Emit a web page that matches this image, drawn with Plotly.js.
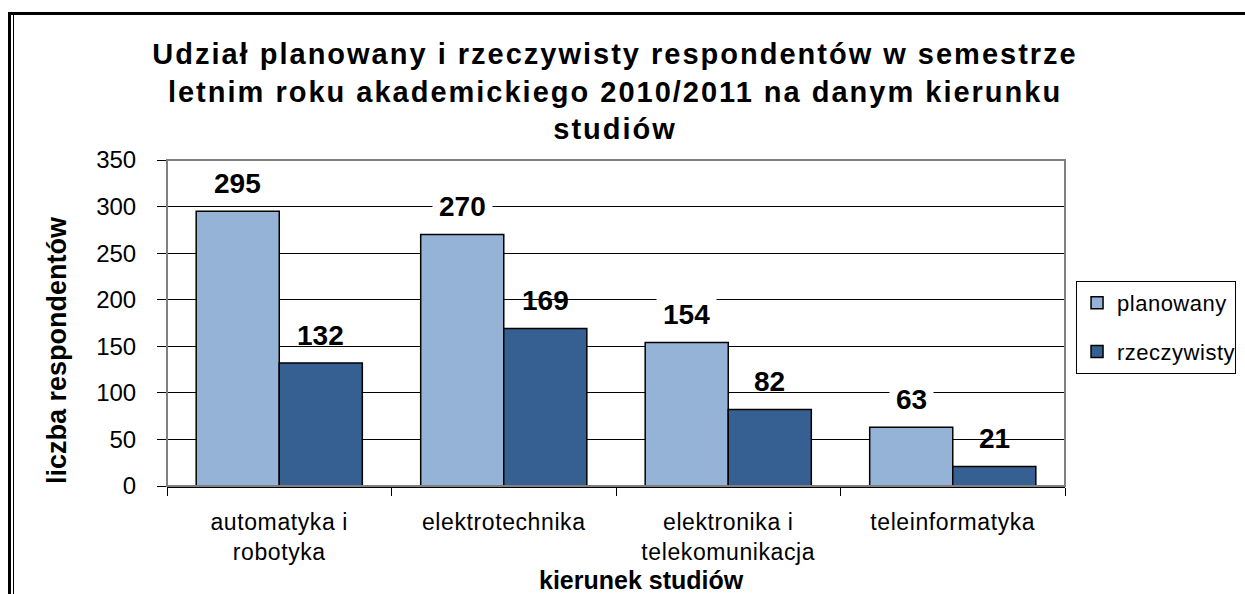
<!DOCTYPE html>
<html>
<head>
<meta charset="utf-8">
<script src="https://cdn.plot.ly/plotly-3.0.1.min.js"></script>
<style>
html,body{margin:0;padding:0;background:#fff;overflow:hidden;}
#wrap{position:relative;width:1245px;height:594px;}
#chart{position:absolute;left:0;top:0;width:1245px;height:594px;}
#frame1{position:absolute;left:8px;top:12px;width:1300px;height:700px;border-left:3px solid #000;border-top:3px solid #000;pointer-events:none;}
#frame2{position:absolute;left:13px;top:15px;width:1px;height:700px;background:#000;pointer-events:none;}
#chart .gtitle{letter-spacing:2px;}
#chart .xtick text{letter-spacing:0.6px;}
#chart .legendtext{letter-spacing:0.5px;}
</style>
</head>
<body>
<div id="wrap">
<div id="chart"></div>
<div id="frame1"></div>
<div id="frame2"></div>
</div>
<script>
const categories = ["automatyka i<br>robotyka", "elektrotechnika", "elektronika i<br>telekomunikacja", "teleinformatyka"];
const planowany = [295, 270, 154, 63];
const rzeczywisty = [132, 169, 82, 21];
const seriesNames = ["planowany", "rzeczywisty"];
const colors = ["#95B3D7", "#366092"];

const FONT = "Liberation Sans, Arial, sans-serif";

const traces = [planowany, rzeczywisty].map((vals, i) => ({
  type: "bar",
  name: seriesNames[i],
  x: categories,
  y: vals,
  marker: {color: colors[i], line: {color: "#000", width: 1.5}},
  legendgroup: "g" + i,
  hoverinfo: "skip"
}));

const annotations = [];
const off = 0.185;
planowany.forEach((v, i) => {
  annotations.push({x: i - off, y: v, xref: "x", yref: "y", text: String(v), showarrow: false,
    yshift: 28, yanchor: "middle", font: {family: FONT, size: 28, color: "#000", weight: "bold"},
    bgcolor: "#fff", borderpad: 6});
});
rzeczywisty.forEach((v, i) => {
  annotations.push({x: i + off, y: v, xref: "x", yref: "y", text: String(v), showarrow: false,
    yshift: 28, yanchor: "middle", font: {family: FONT, size: 28, color: "#000", weight: "bold"}});
});
// axis titles
annotations.push({x: 0.528, y: -0.288, xref: "paper", yref: "paper", text: "<b>kierunek studiów</b>",
  showarrow: false, yanchor: "middle", xanchor: "center", font: {family: FONT, size: 25, color: "#000"}});
annotations.push({x: (57 - 167) / 898, y: (486 - 350) / 326, xref: "paper", yref: "paper",
  text: "<b>liczba respondentów</b>", textangle: -90,
  showarrow: false, yanchor: "middle", xanchor: "center", font: {family: FONT, size: 27, color: "#000"}});

const layout = {
  width: 1245, height: 594,
  margin: {l: 167, r: 180, t: 160, b: 108, autoexpand: false},
  paper_bgcolor: "#fff", plot_bgcolor: "#fff",
  font: {family: FONT, color: "#000"},
  barmode: "group", bargap: 0.26, bargroupgap: 0,
  title: {text: "<b>Udział planowany i rzeczywisty respondentów w semestrze<br>letnim roku akademickiego 2010/2011 na danym kierunku<br>studiów</b>",
    font: {family: FONT, size: 29, color: "#000"}, x: 0.494, xref: "container", xanchor: "center",
    y: 1 - 64/594, yref: "container", yanchor: "top"},
  xaxis: {type: "category", showgrid: false, showline: true, linecolor: "#000", linewidth: 2,
    ticks: "outside", tickson: "boundaries", ticklen: 8, tickcolor: "#000", tickwidth: 1,
    ticklabelstandoff: 14,
    tickfont: {family: FONT, size: 23, color: "#000"}, automargin: false, fixedrange: true},
  yaxis: {range: [0, 350], dtick: 50, showgrid: true, gridcolor: "#000", gridwidth: 1,
    zeroline: false, showline: false, ticks: "outside", ticklen: 9, tickcolor: "#000", tickwidth: 1,
    ticklabelstandoff: 16,
    tickfont: {family: FONT, size: 24, color: "#000"}, automargin: false, fixedrange: true},
  legend: {x: 1.0123, y: 0.6288, xanchor: "left", yanchor: "top", bordercolor: "#000", borderwidth: 1,
    bgcolor: "#fff", font: {family: FONT, size: 22, color: "#000"}, tracegroupgap: 17,
    traceorder: "grouped", itemwidth: 30},
  shapes: [{type: "rect", xref: "paper", yref: "paper", x0: 0, x1: 1, y0: 0, y1: 1,
    line: {color: "#808080", width: 2}, layer: "above"}],
  annotations: annotations,
  showlegend: true
};

Plotly.newPlot("chart", traces, layout, {displayModeBar: false, staticPlot: true});
</script>
</body>
</html>
